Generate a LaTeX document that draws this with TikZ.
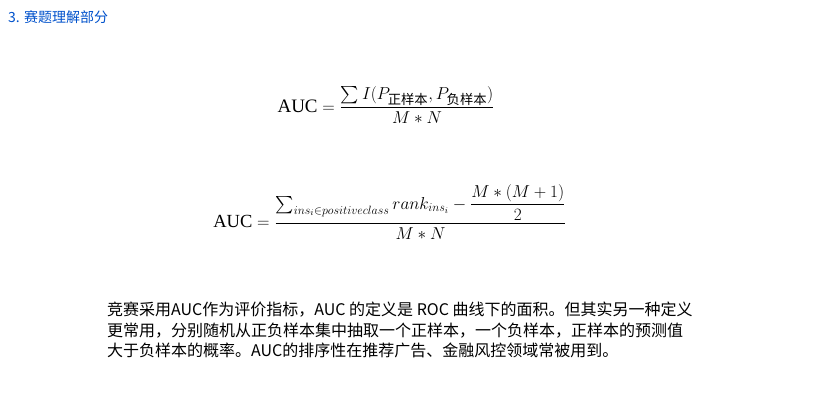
\documentclass[tikz,border=0pt]{standalone}
\usepackage{fontspec}
\usepackage{amsmath}
\setmainfont{Liberation Serif}
\newfontfamily\cjk{Noto Sans CJK SC}
\newcommand{\zh}[1]{\text{\cjk #1}}
\begin{document}
\begin{tikzpicture}[x=1pt,y=-1pt,
  title/.style={anchor=west,inner sep=0pt,font=\cjk\fontsize{14}{16}\selectfont,text=blue!60!cyan!80!black},
  formula/.style={anchor=center,inner sep=0pt,font=\fontsize{19}{22}\selectfont},
  para/.style={anchor=north west,inner sep=0pt,font=\cjk\fontsize{16}{20.5}\selectfont,align=left}]
\useasboundingbox[fill=white] (0,0) rectangle (816,404);
\node[title] (t) at (8,17) {3. 赛题理解部分};
\node[formula] (f1) at (386,105) {$\mathrm{AUC}=\dfrac{\sum I(P_{\zh{正样本}},P_{\zh{负样本}})}{M*N}$};
\node[formula] (f2) at (390,212) {\fontsize{18.5}{22}\selectfont$\mathrm{AUC}=\dfrac{\sum_{ins_i\in positiveclass} rank_{ins_i}-\dfrac{M*(M+1)}{2}}{M*N}$};
\node[para] (p) at (107,302) {竞赛采用AUC作为评价指标，AUC 的定义是 ROC 曲线下的面积。但其实另一种定义\\更常用，分别随机从正负样本集中抽取一个正样本，一个负样本，正样本的预测值\\大于负样本的概率。AUC的排序性在推荐广告、金融风控领域常被用到。};
\end{tikzpicture}
\end{document}
